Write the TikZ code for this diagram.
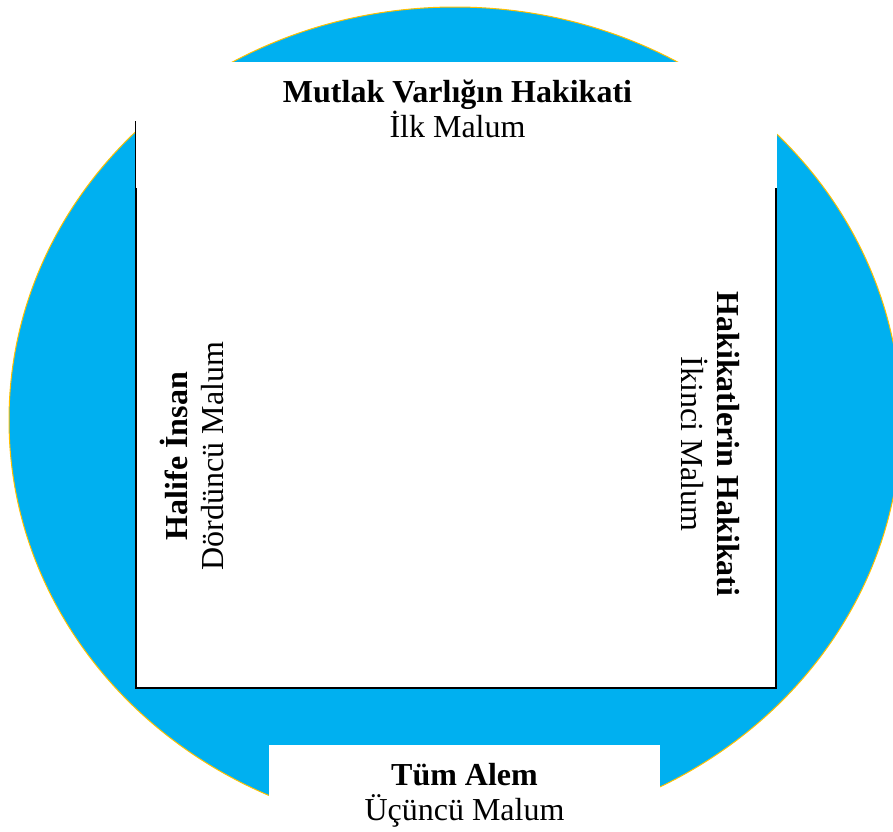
\documentclass[tikz,border=0pt]{standalone}
\usepackage{fontspec}
\setmainfont{Liberation Serif}
\definecolor{skyblue}{HTML}{00B0F0}
\definecolor{goldline}{HTML}{FFC000}
\tikzset{
  titletext/.style={font=\fontsize{32}{35}\selectfont\bfseries, anchor=base, inner sep=0pt},
  subtext/.style={font=\fontsize{32}{35}\selectfont, anchor=base, inner sep=0pt},
  whitebox/.style={fill=white, draw=none},
  frame/.style={fill=white, draw=black, line width=2pt},
}
\begin{document}
\begin{tikzpicture}[x=1pt, y=-1pt]
\useasboundingbox (0,0) rectangle (893,831);
% blue disc
\path[fill=skyblue, draw=goldline, line width=1pt] (455,420) ellipse [x radius=446pt, y radius=413pt];
% framed square
\path[frame] (135.5,122) rectangle (775.8,688);
% white label boxes
\path[whitebox] (136.2,62) rectangle (776.6,188);
\path[whitebox] (269,745) rectangle (660,835);
% top
\node[titletext] (t1) at (457.5,102) {Mutlak Varlığın Hakikati};
\node[subtext] (t2) at (457.5,137) {İlk Malum};
% right
\node[titletext, rotate=-90] (r1) at (717,444) {Hakikatlerin Hakikati};
\node[subtext, rotate=-90] (r2) at (681,444) {İkinci Malum};
% bottom
\node[titletext] (b1) at (464.5,785) {Tüm Alem};
\node[subtext] (b2) at (464.5,820) {Üçüncü Malum};
% left
\node[titletext, rotate=90] (l1) at (187,456) {Halife İnsan};
\node[subtext, rotate=90] (l2) at (223,456) {Dördüncü Malum};
\end{tikzpicture}
\end{document}
